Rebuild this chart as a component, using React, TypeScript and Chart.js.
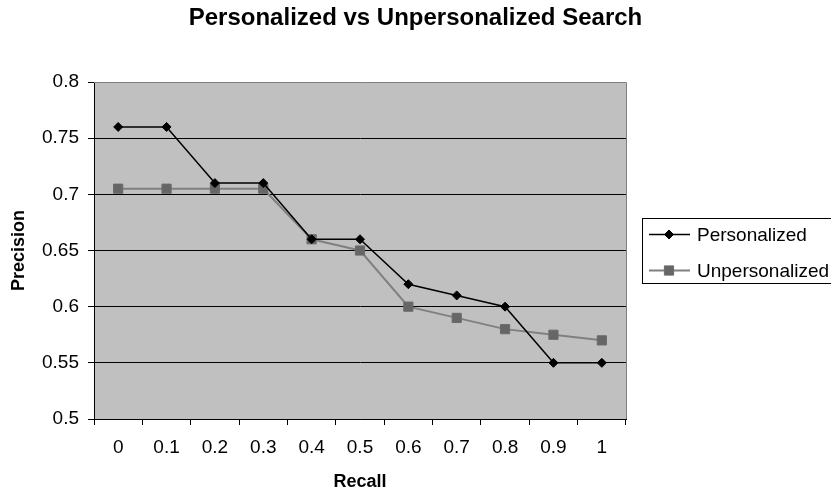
import React, { useEffect, useRef } from "react";
import { Chart, registerables } from "chart.js";

Chart.register(...registerables);

const categories = ["0", "0.1", "0.2", "0.3", "0.4", "0.5", "0.6", "0.7", "0.8", "0.9", "1"];
const personalized = [0.76, 0.76, 0.71, 0.71, 0.66, 0.66, 0.62, 0.61, 0.6, 0.55, 0.55];
const unpersonalized = [0.705, 0.705, 0.705, 0.705, 0.66, 0.65, 0.6, 0.59, 0.58, 0.575, 0.57];
const yTicks = [0.5, 0.55, 0.6, 0.65, 0.7, 0.75, 0.8];
const yTickLabels = ["0.5", "0.55", "0.6", "0.65", "0.7", "0.75", "0.8"];
const seriesNames = ["Personalized", "Unpersonalized"];
const titleText = "Personalized vs Unpersonalized Search";
const xTitle = "Recall";
const yTitle = "Precision";

const FONT = "'Liberation Sans', Arial, sans-serif";

function drawMarker(ctx: CanvasRenderingContext2D, style: string, x: number, y: number, r: number) {
  ctx.beginPath();
  if (style === "rectRot") {
    ctx.moveTo(x, y - r);
    ctx.lineTo(x + r, y);
    ctx.lineTo(x, y + r);
    ctx.lineTo(x - r, y);
    ctx.closePath();
  } else {
    const s = Math.SQRT1_2 * r;
    ctx.rect(x - s, y - s, 2 * s, 2 * s);
  }
  ctx.fill();
  ctx.stroke();
}

const plotDecor = {
  id: "plotDecor",
  beforeDraw(chart: any) {
    const { ctx, chartArea } = chart;
    ctx.save();
    ctx.fillStyle = "#c0c0c0";
    ctx.fillRect(chartArea.left, chartArea.top, chartArea.right - chartArea.left, chartArea.bottom - chartArea.top);
    ctx.restore();
  },
  beforeDatasetsDraw(chart: any) {
    const { ctx, chartArea } = chart;
    ctx.save();
    ctx.strokeStyle = "#808080";
    ctx.lineWidth = 1;
    ctx.beginPath();
    ctx.moveTo(chartArea.left, Math.round(chartArea.top) + 0.5);
    ctx.lineTo(Math.round(chartArea.right) + 0.5, Math.round(chartArea.top) + 0.5);
    ctx.lineTo(Math.round(chartArea.right) + 0.5, chartArea.bottom);
    ctx.stroke();
    ctx.restore();
  },
  afterDraw(chart: any) {
    const { ctx, chartArea } = chart;
    const cy = (chartArea.top + chartArea.bottom) / 2;
    const left = Math.round(chartArea.right) + 16;
    const top = Math.round(cy - 32.5) + 0.5;
    const h = 65;
    ctx.save();
    ctx.strokeStyle = "#000";
    ctx.lineWidth = 1;
    ctx.strokeRect(left + 0.5, top, 300, h);
    const rows = [cy - 16, cy + 20];
    rows.forEach((ry, i) => {
      const ds = chart.data.datasets[i];
      ctx.strokeStyle = ds.borderColor;
      ctx.lineWidth = ds.borderWidth;
      ctx.beginPath();
      ctx.moveTo(left + 7, ry);
      ctx.lineTo(left + 48, ry);
      ctx.stroke();
      ctx.fillStyle = ds.pointBackgroundColor;
      ctx.strokeStyle = ds.pointBorderColor;
      ctx.lineWidth = ds.pointBorderWidth;
      drawMarker(ctx, ds.pointStyle, left + 27, ry, ds.pointRadius);
      ctx.fillStyle = "#000";
      ctx.font = `19px ${FONT}`;
      ctx.textAlign = "left";
      ctx.textBaseline = "middle";
      ctx.fillText(seriesNames[i], left + 55, ry + 1);
    });
    ctx.restore();
  },
};

export default function App() {
  const ref = useRef<HTMLCanvasElement>(null);
  useEffect(() => {
    document.body.style.margin = "0";
    const chart = new Chart(ref.current!, {
      type: "line",
      data: {
        labels: categories,
        datasets: [
          {
            label: seriesNames[0],
            data: personalized,
            borderColor: "#000000",
            borderWidth: 1.5,
            pointStyle: "rectRot",
            pointRadius: 4.5,
            pointBackgroundColor: "#000000",
            pointBorderColor: "#000000",
            pointBorderWidth: 1,
            tension: 0,
            yAxisID: "y",
          },
          {
            label: seriesNames[1],
            data: unpersonalized,
            borderColor: "#808080",
            borderWidth: 2,
            pointStyle: "rect",
            pointRadius: 6.5,
            pointBackgroundColor: "#666666",
            pointBorderColor: "#6b6b6b",
            pointBorderWidth: 1,
            tension: 0,
            yAxisID: "y",
          },
        ],
      },
      options: {
        animation: false,
        responsive: false,
        maintainAspectRatio: false,
        events: [],
        layout: { padding: 0 },
        plugins: {
          legend: { display: false },
          tooltip: { enabled: false },
          title: {
            display: true,
            text: titleText,
            color: "#000",
            font: { family: FONT, size: 24, weight: "bold", lineHeight: 1.2 },
            padding: { top: 4, bottom: 49.2 },
          },
        },
        scales: {
          x: {
            type: "category",
            offset: true,
            grid: {
              offset: true,
              drawOnChartArea: false,
              drawTicks: true,
              tickLength: 6,
              color: "#000",
            },
            border: { display: true, color: "#000", width: 1 },
            ticks: {
              color: "#000",
              font: { family: FONT, size: 19 },
              padding: 11,
              maxRotation: 0,
              autoSkip: false,
            },
            title: {
              display: true,
              text: xTitle,
              color: "#000",
              font: { family: FONT, size: 18, weight: "bold", lineHeight: 1.2 },
              padding: { top: 0, bottom: 0.5 },
            },
            afterFit(scale: any) {
              scale.height = 74;
            },
          },
          y: {
            type: "linear",
            position: "left",
            min: 0.5,
            max: 0.8,
            afterBuildTicks(scale: any) {
              scale.ticks = yTicks.map((v) => ({ value: v }));
            },
            grid: {
              color: (c: any) => (c.tick && Math.abs(c.tick.value - 0.8) < 1e-9 ? "#808080" : "#000"),
              tickColor: "#000",
              tickLength: 6,
              lineWidth: 1,
            },
            border: { display: true, color: "#000", width: 1 },
            ticks: {
              color: "#000",
              font: { family: FONT, size: 19 },
              padding: 9,
              callback: (v: any) => {
                const i = yTicks.findIndex((t) => Math.abs(t - Number(v)) < 1e-9);
                return i >= 0 ? yTickLabels[i] : "";
              },
            },
            title: {
              display: true,
              text: yTitle,
              color: "#000",
              font: { family: FONT, size: 18, weight: "bold", lineHeight: 1.2 },
              padding: { top: 8, bottom: 0 },
            },
            afterFit(scale: any) {
              scale.width = 94;
            },
          },
          spacer: {
            type: "linear",
            position: "right",
            display: true,
            grid: { display: false, drawTicks: false },
            border: { display: false },
            ticks: { display: false },
            afterFit(scale: any) {
              scale.width = 205;
            },
          },
        },
      },
      plugins: [plotDecor],
    });
    return () => chart.destroy();
  }, []);
  return (
    <div style={{ width: 831, height: 493 }}>
      <canvas ref={ref} width={831} height={493} />
    </div>
  );
}
